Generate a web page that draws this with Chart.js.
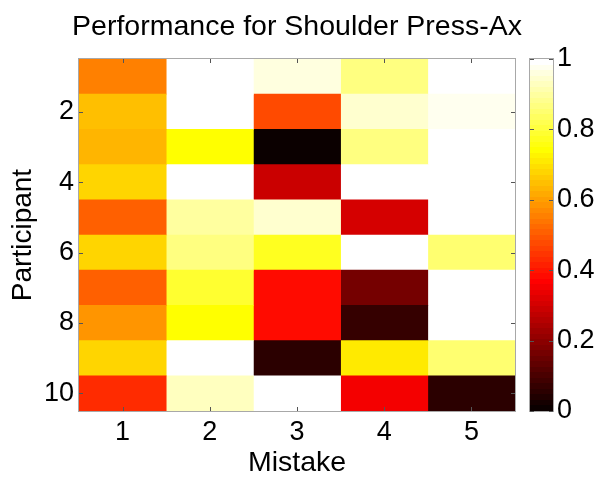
<!DOCTYPE html>
<html>
<head>
<meta charset="utf-8">
<script src="https://cdn.jsdelivr.net/npm/chart.js@4/dist/chart.umd.min.js"></script>
<style>
  html, body { margin: 0; padding: 0; background: #fff; }
  #wrap { position: relative; width: 599px; height: 481px; }
  canvas { position: absolute; left: 0; top: 0; }
</style>
</head>
<body>
<div id="wrap">
  <canvas id="heat" width="599" height="481"></canvas>
  <canvas id="cbar" width="599" height="481"></canvas>
</div>
<script>
// Participants (rows, top to bottom) and mistake types (columns)
const participants = [1, 2, 3, 4, 5, 6, 7, 8, 9, 10];
const mistakes = ['1', '2', '3', '4', '5'];

// Performance score per participant, one array per mistake type
const mistake1 = [0.555, 0.645, 0.625, 0.68, 0.508, 0.685, 0.508, 0.586, 0.685, 0.43];
const mistake2 = [1.00, 1.00, 0.745, 1.00, 0.895, 0.867, 0.79, 0.745, 1.00, 0.93];
const mistake3 = [0.96, 0.477, 0.01, 0.29, 0.945, 0.773, 0.383, 0.383, 0.055, 1.00];
const mistake4 = [0.867, 0.945, 0.87, 1.00, 0.305, 1.00, 0.17, 0.07, 0.71, 0.35];
const mistake5 = [1.00, 0.97, 1.00, 1.00, 1.00, 0.85, 1.00, 1.00, 0.85, 0.055];
const scoresByMistake = [mistake1, mistake2, mistake3, mistake4, mistake5];

// Axis tick labels
const participantTicks = [2, 4, 6, 8, 10];
const colorbarTicks = [0, 0.2, 0.4, 0.6, 0.8, 1];

const TITLE = 'Performance for Shoulder Press-Ax';
const FONT = 'Liberation Sans, Arial, Helvetica, sans-serif';

// 64-step "hot" colormap: black -> red -> yellow -> white
function hotColor(v) {
  const m = 64, n = 24;
  let i = Math.floor(Math.max(0, Math.min(1, v)) * m);
  if (i > m - 1) i = m - 1;
  let r, g, b;
  if (i < n) { r = (i + 1) / n; g = 0; b = 0; }
  else if (i < 2 * n) { r = 1; g = (i - n + 1) / n; b = 0; }
  else { r = 1; g = 1; b = (i - 2 * n + 1) / (m - 2 * n); }
  return `rgb(${Math.round(r * 255)},${Math.round(g * 255)},${Math.round(b * 255)})`;
}

// Grey box round the plot area with short inward tick marks
function framePlugin(xTicks, yTicks) {
  return {
    id: 'frame',
    afterDatasetsDraw(chart) {
      const { ctx, chartArea: a, scales } = chart;
      ctx.save();
      ctx.strokeStyle = '#a8a8a8';
      ctx.lineWidth = 1;
      ctx.strokeRect(Math.round(a.left) - 0.5, Math.round(a.top) - 0.5,
                     Math.round(a.right - a.left) + 1, Math.round(a.bottom - a.top) + 1);
      ctx.strokeStyle = '#555';
      const len = 4;
      ctx.beginPath();
      if (xTicks) {
        xTicks.forEach(t => {
          const x = Math.round(scales.x.getPixelForValue(t)) + 0.5;
          ctx.moveTo(x, a.bottom); ctx.lineTo(x, a.bottom - len);
          ctx.moveTo(x, a.top); ctx.lineTo(x, a.top + len);
        });
      }
      if (yTicks) {
        yTicks.forEach(t => {
          const y = Math.round(scales.y.getPixelForValue(t)) + 0.5;
          ctx.moveTo(a.left, y); ctx.lineTo(a.left + len, y);
          ctx.moveTo(a.right, y); ctx.lineTo(a.right - len, y);
        });
      }
      ctx.stroke();
      ctx.restore();
    }
  };
}

// Title centred over the plot area (not the whole canvas)
const plotTitle = {
  id: 'plotTitle',
  afterDraw(chart) {
    const { ctx, chartArea: a } = chart;
    ctx.save();
    ctx.fillStyle = '#000';
    ctx.font = `28.5px ${FONT}`;
    ctx.textAlign = 'center';
    ctx.textBaseline = 'alphabetic';
    ctx.fillText(TITLE, (a.left + a.right) / 2, 35);
    ctx.restore();
  }
};

// One dataset per mistake type; each participant is a one-row floating bar
const heatDatasets = scoresByMistake.map((scores, c) => ({
  label: 'Mistake ' + mistakes[c],
  data: participants.map(p => ({ x: mistakes[c], y: [p - 0.5, p + 0.5] })),
  backgroundColor: scores.map(hotColor),
  borderWidth: 0,
  grouped: false,
  barPercentage: 1,
  categoryPercentage: 1
}));

new Chart(document.getElementById('heat'), {
  type: 'bar',
  data: { labels: mistakes, datasets: heatDatasets },
  options: {
    responsive: false,
    animation: false,
    devicePixelRatio: 1,
    layout: { padding: { left: 0, right: 84, top: 59, bottom: 0 } },
    plugins: {
      legend: { display: false },
      tooltip: { enabled: false },
      title: { display: false }
    },
    scales: {
      x: {
        type: 'category',
        offset: true,
        grid: { display: false, drawTicks: false },
        border: { display: false },
        ticks: { color: '#000', font: { family: FONT, size: 27 }, padding: 5, maxRotation: 0 },
        title: {
          display: true, text: 'Mistake', color: '#000',
          font: { family: FONT, size: 28.5 }, padding: { top: 0, bottom: 1 }
        },
        afterFit(scale) { scale.height = 70; }
      },
      y: {
        type: 'linear',
        reverse: true,
        min: 0.5,
        max: 10.5,
        grid: { display: false, drawTicks: false },
        border: { display: false },
        afterBuildTicks(scale) { scale.ticks = participantTicks.map(v => ({ value: v })); },
        ticks: { color: '#000', font: { family: FONT, size: 27 }, padding: 5 },
        title: {
          display: true, text: 'Participant', color: '#000',
          font: { family: FONT, size: 28 }, padding: { top: 6, bottom: 0 }
        },
        afterFit(scale) { scale.width = 79; }
      }
    }
  },
  plugins: [framePlugin(mistakes, participantTicks), plotTitle]
});

// Colour bar: a single floating bar spanning 0..1, filled with the banded colormap
function colormapGradient(context) {
  const chart = context.chart;
  const { ctx, chartArea, scales } = chart;
  if (!chartArea) return '#000';
  const y0 = scales.y.getPixelForValue(0);
  const y1 = scales.y.getPixelForValue(1);
  const grad = ctx.createLinearGradient(0, y0, 0, y1);
  for (let k = 0; k < 64; k++) {
    const c = hotColor((k + 0.5) / 64);
    grad.addColorStop(k / 64, c);
    grad.addColorStop((k + 1) / 64, c);
  }
  return grad;
}

new Chart(document.getElementById('cbar'), {
  type: 'bar',
  data: {
    labels: [''],
    datasets: [{
      data: [[0, 1]],
      backgroundColor: colormapGradient,
      borderWidth: 0,
      barPercentage: 1,
      categoryPercentage: 1
    }]
  },
  options: {
    responsive: false,
    animation: false,
    devicePixelRatio: 1,
    layout: { padding: { left: 530, right: 0, top: 59, bottom: 70 } },
    plugins: { legend: { display: false }, tooltip: { enabled: false }, title: { display: false } },
    scales: {
      x: { display: false, offset: true },
      y: {
        type: 'linear',
        position: 'right',
        min: 0,
        max: 1,
        grid: { display: false, drawTicks: false },
        border: { display: false },
        afterBuildTicks(scale) { scale.ticks = colorbarTicks.map(v => ({ value: v })); },
        ticks: {
          color: '#000', font: { family: FONT, size: 27 }, padding: 4,
          callback: v => String(v)
        },
        afterFit(scale) { scale.width = 46; }
      }
    }
  },
  plugins: [framePlugin(null, colorbarTicks)]
});
</script>
</body>
</html>
